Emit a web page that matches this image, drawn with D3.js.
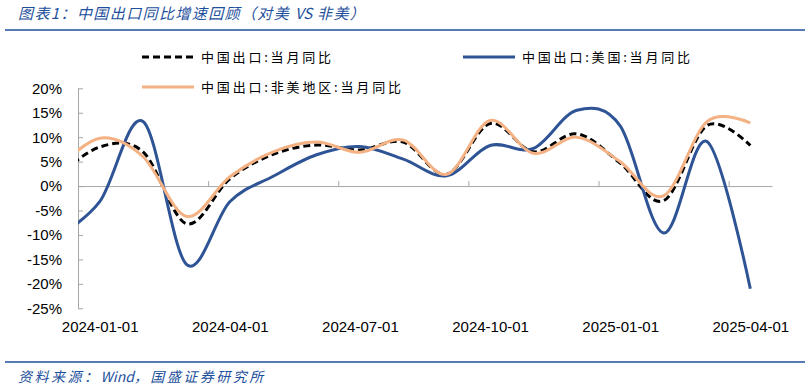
<!DOCTYPE html>
<html>
<head>
<meta charset="utf-8">
<script src="https://cdn.jsdelivr.net/npm/d3@7/dist/d3.min.js"></script>
<style>
  body { margin: 0; background: #fff; }
  svg { display: block; }
  .axis text { font-family: "Liberation Sans", Arial, sans-serif; font-size: 15px; fill: #000; }
  .axis path, .axis line { stroke: #a6a6a6; }
</style>
</head>
<body>
<div id="chart"></div>
<script>
// months, Dec 2023 only there so the curve runs into the left edge (gets clipped)
const months = ["2023-12","2024-01","2024-02","2024-03","2024-04","2024-05","2024-06","2024-07","2024-08",
  "2024-09","2024-10","2024-11","2024-12","2025-01","2025-02","2025-03","2025-04"];
// 中国出口:当月同比
const total = [1.8, 8.0, 7.0, -7.7, 1.5, 6.5, 8.4, 7.4, 9.0, 2.4, 12.8, 7.0, 10.7, 4.7, -3.0, 12.4, 8.3];
// 中国出口:美国:当月同比
const usa = [-10.5, -3.2, 13.2, -16.0, -3.2, 2.0, 6.4, 8.1, 5.5, 2.1, 8.3, 7.7, 15.5, 12.3, -9.6, 9.1, -21.0];
// 中国出口:非美地区:当月同比
const nonUs = [3.4, 9.8, 6.0, -6.2, 1.9, 7.0, 9.0, 6.9, 9.4, 2.4, 13.4, 6.7, 10.0, 5.0, -2.0, 13.2, 12.9];

const yTicks = [20, 15, 10, 5, 0, -5, -10, -15, -20, -25];
const xLabels = ["2024-01-01","2024-04-01","2024-07-01","2024-10-01","2025-01-01","2025-04-01"];

const series = [
  { name: "中国出口:当月同比", values: total, color: "#000000", dash: "7,4" },
  { name: "中国出口:美国:当月同比", values: usa, color: "#2e5496", dash: null },
  { name: "中国出口:非美地区:当月同比", values: nonUs, color: "#f4b183", dash: null }
];

const W = 810, H = 388;
const plotLeft = 78, plotRight = 772, plotTop = 88.3, plotBottom = 308.3;

const svg = d3.select("#chart").append("svg")
  .attr("width", W)
  .attr("height", H);

// month index: 2024-01 -> 0, points sit in the middle of each month slot
const x = d3.scaleLinear().domain([0, 16]).range([plotLeft, plotRight]);
const y = d3.scaleLinear().domain([-25, 20]).range([plotBottom, plotTop]);
const px = (d, i) => x(i - 1 + 0.5);

const cjk = "'Noto Sans CJK SC', sans-serif";

// title + rules
const title = svg.append("text")
  .attr("x", 18).attr("y", 19)
  .style("font-family", cjk)
  .style("font-size", "15px")
  .style("font-style", "italic")
  .style("fill", "#1d4f9c");
title.append("tspan").style("letter-spacing", "1.4px").text("图表1：中国出口同比增速回顾（对美 ");
title.append("tspan").text("VS");
title.append("tspan").style("letter-spacing", "1.4px").text(" 非美）");

svg.append("line").attr("x1", 5).attr("x2", 805).attr("y1", 30).attr("y2", 30)
  .attr("stroke", "#1f4e9a").attr("stroke-width", 1.6);
svg.append("line").attr("x1", 5).attr("x2", 805).attr("y1", 362).attr("y2", 362)
  .attr("stroke", "#1f4e9a").attr("stroke-width", 1.6);

const source = svg.append("text")
  .attr("x", 18).attr("y", 382)
  .style("font-family", cjk)
  .style("font-size", "14px")
  .style("font-style", "italic")
  .style("fill", "#1d4f9c");
source.append("tspan").style("letter-spacing", "2.5px").text("资料来源：");
source.append("tspan").text("Wind");
source.append("tspan").style("letter-spacing", "2.5px").text("，国盛证券研究所");

// y axis
const yAxis = d3.axisLeft(y).tickValues(yTicks).tickSize(-5).tickSizeOuter(0)
  .tickPadding(16).tickFormat(d => d + "%");
svg.append("g").attr("class", "axis")
  .attr("transform", `translate(${plotLeft},0)`)
  .call(yAxis);

// x axis on the zero line, ticks every 3 months
const xAxis = d3.axisBottom(x).tickValues([0, 3, 6, 9, 12, 15]).tickSize(-5).tickSizeOuter(0).tickFormat("");
svg.append("g").attr("class", "axis")
  .attr("transform", `translate(0,${y(0)})`)
  .call(xAxis);

// date labels at the bottom, centred on their month
const xLabelAxis = d3.axisBottom(x).tickValues([0.5, 3.5, 6.5, 9.5, 12.5, 15.5]).tickSize(0).tickPadding(8)
  .tickFormat((d, i) => xLabels[i]);
svg.append("g").attr("class", "axis")
  .attr("transform", `translate(0,313)`)
  .call(xLabelAxis)
  .call(g => g.select(".domain").remove());

svg.append("clipPath").attr("id", "plot-clip")
  .append("rect").attr("x", plotLeft).attr("y", 0).attr("width", plotRight - plotLeft + 10).attr("height", H);

const line = d3.line()
  .x(px)
  .y(d => y(d))
  .curve(d3.curveCatmullRom.alpha(0));

const lines = svg.append("g").attr("clip-path", "url(#plot-clip)");
series.forEach(s => {
  lines.append("path")
    .datum(s.values)
    .attr("fill", "none")
    .attr("stroke", s.color)
    .attr("stroke-width", 3)
    .attr("stroke-dasharray", s.dash)
    .attr("d", line);
});

// legend
const legendPos = [
  { x: 142, y: 57 },
  { x: 463, y: 57 },
  { x: 142, y: 87 }
];
const legendLen = [130, 168, 200];
series.forEach((s, i) => {
  const p = legendPos[i];
  const g = svg.append("g").attr("transform", `translate(${p.x},${p.y})`);
  g.append("line").attr("x1", 0).attr("x2", 52).attr("y1", 0).attr("y2", 0)
    .attr("stroke", s.color).attr("stroke-width", 3)
    .attr("stroke-dasharray", s.dash);
  g.append("text")
    .attr("x", 59).attr("y", 5)
    .attr("textLength", legendLen[i]).attr("lengthAdjust", "spacing")
    .style("font-family", cjk)
    .style("font-size", "13px")
    .style("fill", "#000")
    .text(s.name);
});
</script>
</body>
</html>
